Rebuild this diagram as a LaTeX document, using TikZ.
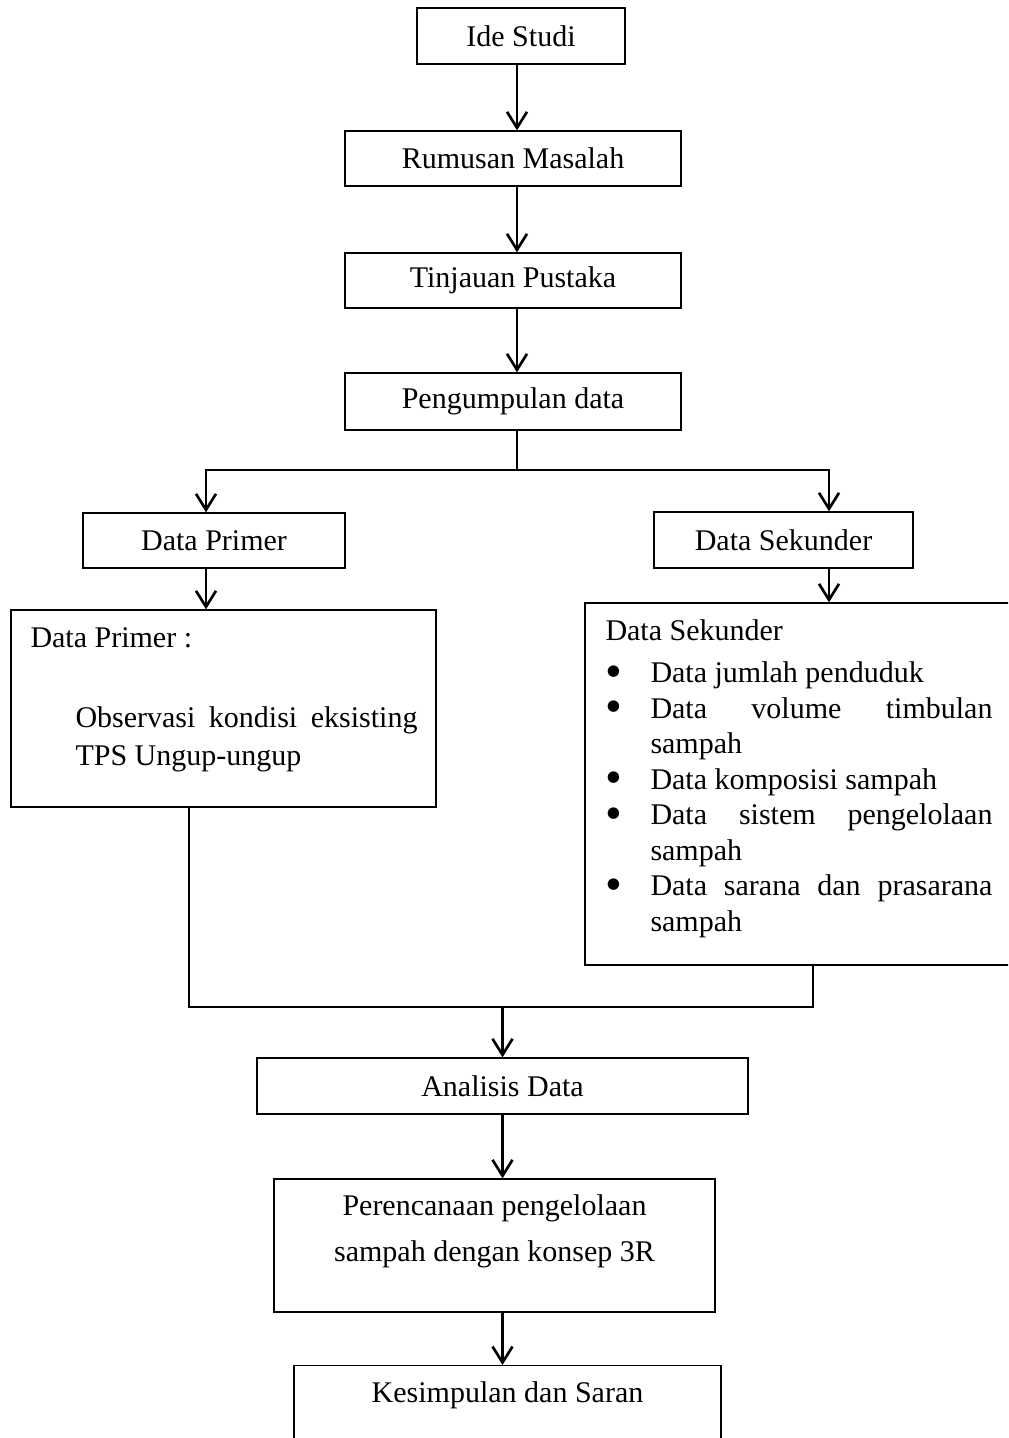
\documentclass[tikz,border=0pt]{standalone}
\usepackage{fontspec}
\usepackage{graphicx}
\setmainfont{Liberation Serif}
\usetikzlibrary{arrows.meta}
\hyphenpenalty=10000
\exhyphenpenalty=10000
\tolerance=10000

\tikzset{every picture/.style={line width=0.75pt}}
\tikzset{
  box/.style={draw, line width=1pt, inner sep=0pt, font=\fontsize{22.5}{26.6}\selectfont},
  txt/.style={inner sep=0pt, font=\fontsize{22.5}{26.6}\selectfont},
  flow/.style={line width=2pt},
  arrow/.style={flow, -{Straight Barb[length=12pt,width=15pt]}}
}
\newcommand{\butir}[1]{\par\hangindent=33.75pt\hangafter=1\noindent\makebox[33.75pt][l]{\raisebox{-0.15em}{\scalebox{1.6}{\textbullet}}}#1\par}

\begin{document}
\begin{tikzpicture}[x=0.75pt,y=0.75pt,yscale=-1,xscale=1]
\useasboundingbox (0,0) rectangle (1008,1438);
\clip (0,0) rectangle (1008,1438);

%Shape: Rectangle [id:ide]
\node [box, minimum width=156pt, minimum height=42pt] (ide) at (521,36) {Ide Studi};
%Shape: Rectangle [id:rumusan]
\node [box, minimum width=252pt, minimum height=41.25pt] (rumusan) at (513,158.5) {Rumusan Masalah};
%Shape: Rectangle [id:tinjauan]
\node [box, minimum width=252pt, minimum height=41.25pt] (tinjauan) at (513,280.5) {Tinjauan Pustaka};
%Shape: Rectangle [id:pengumpulan]
\node [box, minimum width=252pt, minimum height=42.75pt] (pengumpulan) at (513,401.5) {Pengumpulan data};
%Shape: Rectangle [id:primer]
\node [box, minimum width=196.5pt, minimum height=41.25pt] (primer) at (214,540.5) {Data Primer};
%Shape: Rectangle [id:sekunder]
\node [box, minimum width=194.25pt, minimum height=42pt] (sekunder) at (783.5,540) {Data Sekunder};
%Shape: Rectangle [id:primerbox]
\node [box, minimum width=318.75pt, minimum height=147.75pt] (primerbox) at (223.5,708.5) {};
%Shape: Rectangle [id:sekunderbox]
\node [box, minimum width=333.75pt, minimum height=271.5pt] (sekunderbox) at (807.5,784) {};
%Shape: Rectangle [id:analisis]
\node [box, minimum width=368.25pt, minimum height=42pt] (analisis) at (502.5,1086) {Analisis Data};
%Shape: Rectangle [id:rencana]
\node [box, minimum width=330.75pt, minimum height=99.75pt] (rencana) at (494.5,1245.5) {};
%Shape: Rectangle [id:kesimpulan]
\node [box, anchor=north, minimum width=320.25pt, minimum height=112.5pt] (kesimpulan) at (507.5,1365) {};

% Text Node
\node [txt, anchor=base west] (primerhead) at (30,647) {Data Primer :};
% Text Node
\node [txt, anchor=north west, text width=256.5pt, align=justify, font=\fontsize{22.5}{28.5}\selectfont] (primertext) at (75,706.5) {Observasi kondisi eksisting TPS Ungup-ungup};
% Text Node
\node [txt, anchor=north west, text width=290.25pt, align=justify] (sektext) at (605,619.5) {Data Sekunder\par\vspace{4.9pt}
\butir{Data jumlah penduduk}
\butir{Data volume timbulan sampah}
\butir{Data komposisi sampah}
\butir{Data sistem pengelolaan sampah}
\butir{Data sarana dan prasarana sampah}};
% Text Node
\node [txt, anchor=north, align=center, font=\fontsize{22.5}{34.5}\selectfont] (rencanatext) at (494.5,1194.5) {Perencanaan pengelolaan\\sampah dengan konsep 3R};
% Text Node
\node [txt, anchor=base] (kesimpulantext) at (507.5,1402) {Kesimpulan dan Saran};

% Connectors
\coordinate (spine) at (517,470);
\coordinate (splitL) at (206,470);
\coordinate (splitR) at (829,470);
\coordinate (joinL) at (189,1007);
\coordinate (joinR) at (813,1007);

%Straight Lines [id:ide-rumusan]
\draw [arrow] (spine |- ide.south) -- (spine |- rumusan.north);
%Straight Lines [id:rumusan-tinjauan]
\draw [arrow] (spine |- rumusan.south) -- (spine |- tinjauan.north);
%Straight Lines [id:tinjauan-pengumpulan]
\draw [arrow] (spine |- tinjauan.south) -- (spine |- pengumpulan.north);
%Straight Lines [id:pengumpulan-primer]
\draw [arrow] (spine |- pengumpulan.south) |- (splitL) -- (splitL |- primer.north);
%Straight Lines [id:pengumpulan-sekunder]
\draw [arrow] (spine) -| (splitR |- sekunder.north);
%Straight Lines [id:primer-primerbox]
\draw [arrow] (splitL |- primer.south) -- (splitL |- primerbox.north);
%Straight Lines [id:sekunder-sekunderbox]
\draw [arrow] (splitR |- sekunder.south) -- (splitR |- sekunderbox.north);
%Straight Lines [id:join]
\draw [flow] (joinL |- primerbox.south) -- (joinL) -- (joinR) -- (joinR |- sekunderbox.south);
%Straight Lines [id:join-analisis]
\draw [arrow] (analisis.north |- joinL) -- (analisis.north);
%Straight Lines [id:analisis-rencana]
\draw [arrow] (analisis.south) -- (analisis.south |- rencana.north);
%Straight Lines [id:rencana-kesimpulan]
\draw [arrow] (analisis.south |- rencana.south) -- (analisis.south |- kesimpulan.north);

\end{tikzpicture}
\end{document}
